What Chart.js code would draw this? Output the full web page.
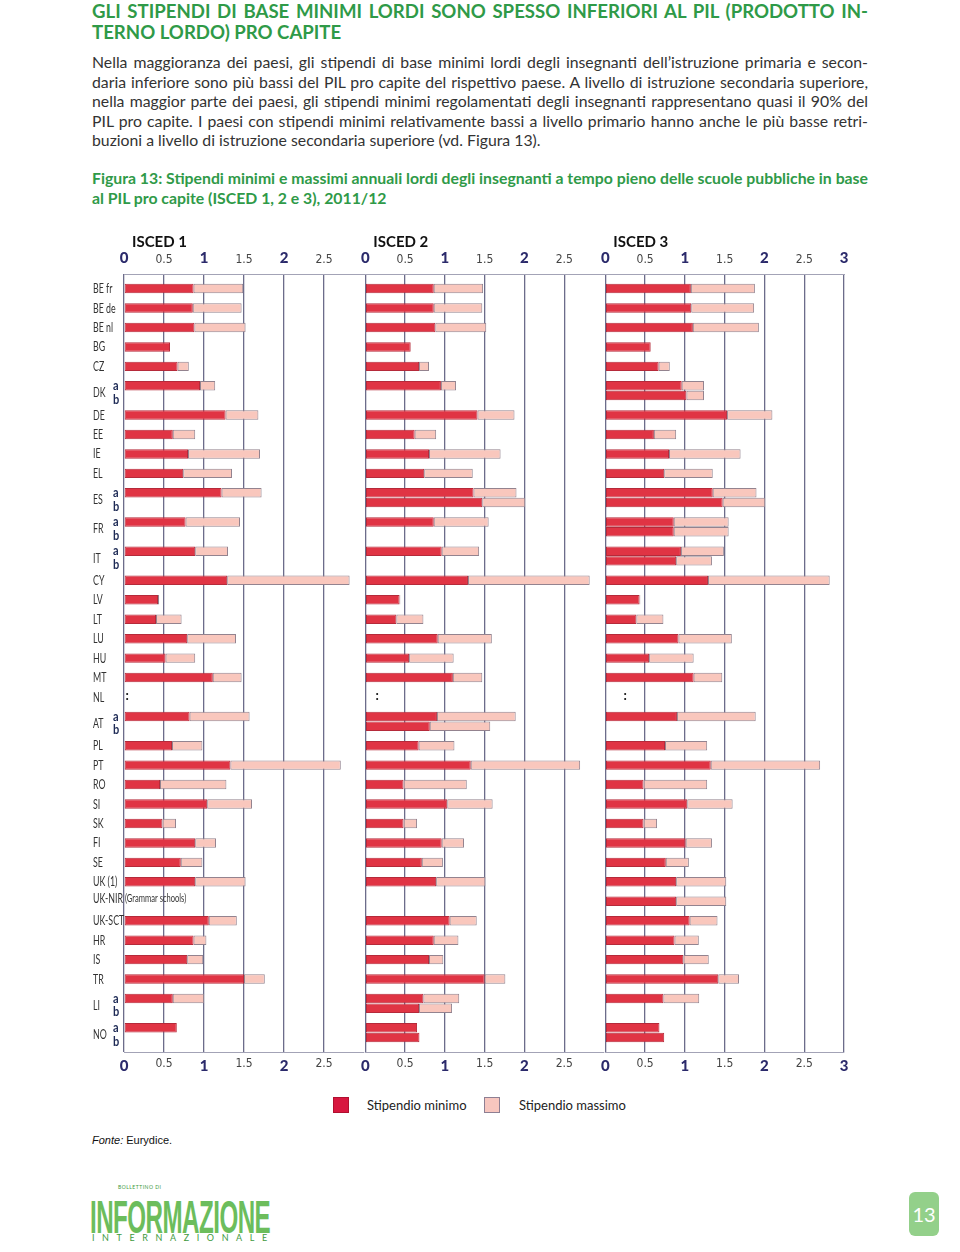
<!DOCTYPE html>
<html lang="it">
<head>
<meta charset="utf-8">
<title>Figura 13 - Stipendi minimi e massimi</title>
<script src="https://cdn.jsdelivr.net/npm/chart.js@4.4.0/dist/chart.umd.min.js"></script>
<style>
  html, body { margin: 0; padding: 0; background: #fff; }
  #page { position: relative; width: 960px; height: 1252px; overflow: hidden; font-family: Lato, "Open Sans", sans-serif; }
  .block { position: absolute; left: 92px; width: 776px; }
  .block div { text-align: justify; text-align-last: justify; }
  .block div.last { text-align-last: left; }
  .h1 { top: 1px; font-size: 18.6px; font-weight: bold; color: #2f9a48; line-height: 21px; }
  .para { top: 52px; font-size: 15.8px; color: #333; line-height: 19.5px; }
  .cap { top: 168px; font-size: 15.8px; font-weight: bold; color: #2f9a48; line-height: 19.5px; }
  canvas { position: absolute; }
  .sw { position: absolute; top: 1097px; width: 14px; height: 14px; }
  .lt { position: absolute; top: 1097px; font-size: 13px; color: #222; line-height: 17px; }
  .fonte { position: absolute; left: 92px; top: 1134px; font: 11px "Liberation Sans", Arial, sans-serif; color: #111; }
  .logo { position: absolute; left: 90px; top: 1193px; font: bold 46px "Liberation Sans", Arial, sans-serif;
          color: #6cbd5c; transform: scaleX(0.525); transform-origin: left top; line-height: 48px; letter-spacing: -1px; }
  .logo-sub { position: absolute; left: 92px; top: 1232px; font: 9px Lato, sans-serif; color: #3e9a3e; letter-spacing: 7.6px; }
  .logo-top { position: absolute; left: 118px; top: 1184px; font: 5px Lato, sans-serif; color: #3e9a3e; letter-spacing: 0.5px; }
  .pnum { position: absolute; left: 909px; top: 1192px; width: 30px; height: 44px; border-radius: 6px; background: #93d08a;
          color: #fff; font: 20px Lato, sans-serif; text-align: center; line-height: 44px; }
</style>
</head>
<body>
<div id="page">
  <div class="block h1">
    <div>GLI STIPENDI DI BASE MINIMI LORDI SONO SPESSO INFERIORI AL PIL (PRODOTTO IN-</div>
    <div class="last">TERNO LORDO) PRO CAPITE</div>
  </div>
  <div class="block para">
    <div>Nella maggioranza dei paesi, gli stipendi di base minimi lordi degli insegnanti dell’istruzione primaria e secon-</div>
    <div>daria inferiore sono più bassi del PIL pro capite del rispettivo paese. A livello di istruzione secondaria superiore,</div>
    <div>nella maggior parte dei paesi, gli stipendi minimi regolamentati degli insegnanti rappresentano quasi il 90% del</div>
    <div>PIL pro capite. I paesi con stipendi minimi relativamente bassi a livello primario hanno anche le più basse retri-</div>
    <div class="last">buzioni a livello di istruzione secondaria superiore (vd. Figura 13).</div>
  </div>
  <div class="block cap">
    <div>Figura 13: Stipendi minimi e massimi annuali lordi degli insegnanti a tempo pieno delle scuole pubbliche in base</div>
    <div class="last">al PIL pro capite (ISCED 1, 2 e 3), 2011/12</div>
  </div>

  <canvas id="isced1" width="289" height="852" style="left:85px;top:228px"></canvas>
  <canvas id="isced2" width="260" height="852" style="left:354px;top:228px"></canvas>
  <canvas id="isced3" width="262" height="852" style="left:594px;top:228px"></canvas>

  <span class="sw" style="left:333px;background:#d8173f;border:1px solid #b01030"></span>
  <span class="lt" style="left:367px">Stipendio minimo</span>
  <span class="sw" style="left:484px;background:#f7c6bf;border:1px solid #8d7f93"></span>
  <span class="lt" style="left:519px">Stipendio massimo</span>

  <div class="fonte"><i>Fonte:</i> Eurydice.</div>

  <div class="logo-top">BOLLETTINO DI</div>
  <div class="logo">INFORMAZIONE</div>
  <div class="logo-sub">INTERNAZIONALE</div>
  <div class="pnum">13</div>
</div>

<script>
// Countries in display order; the ones in abCountries have two bar rows (a / b).
const countries = ['BE fr', 'BE de', 'BE nl', 'BG', 'CZ', 'DK', 'DE', 'EE', 'IE', 'EL', 'ES', 'FR', 'IT',
  'CY', 'LV', 'LT', 'LU', 'HU', 'MT', 'NL', 'AT', 'PL', 'PT', 'RO', 'SI', 'SK', 'FI', 'SE',
  'UK (1)', 'UK-NIR', 'UK-SCT', 'HR', 'IS', 'TR', 'LI', 'NO'];
const abCountries = ['DK', 'ES', 'FR', 'IT', 'AT', 'LI', 'NO'];
const panelTitles = ['ISCED 1', 'ISCED 2', 'ISCED 3'];
const xTicks = [0, 0.5, 1, 1.5, 2, 2.5, 3];
const seriesNames = ['Stipendio minimo', 'Stipendio massimo'];

// One value per bar row (a/b countries take two), ratio to GDP per capita. null = no bar.
const isced1Min = [0.87, 0.86, 0.88, 0.575, 0.67, 0.95, null, 1.27, 0.61, 0.80, 0.74, 1.22, null, 0.77, null, 0.89, null,
  1.29, 0.425, 0.40, 0.79, 0.52, 1.11, null, 0.82, null, 0.60, 1.33, 0.45, 1.04, 0.48, 0.89, 0.71,
  0.89, null, 1.06, 0.87, 0.79, 1.50, 0.61, null, 0.66, null];
const isced1Max = [1.49, 1.47, 1.52, null, 0.81, 1.14, null, 1.68, 0.89, 1.70, 1.35, 1.72, null, 1.45, null, 1.30, null,
  2.82, 0.44, 0.72, 1.40, 0.89, 1.47, null, 1.57, null, 0.98, 2.71, 1.28, 1.60, 0.65, 1.15, 0.98,
  1.52, null, 1.41, 1.03, 0.99, 1.76, 1.00, null, null, null];

const isced2Min = [0.86, 0.86, 0.88, 0.57, 0.675, 0.95, null, 1.41, 0.62, 0.80, 0.74, 1.36, 1.47, 0.86, null, 0.96, null,
  1.29, 0.43, 0.39, 0.91, 0.55, 1.10, null, 0.90, 0.81, 0.67, 1.325, 0.48, 1.03, 0.48, 0.96, 0.71,
  0.89, null, 1.06, 0.86, 0.80, 1.50, 0.73, 0.675, 0.65, 0.68];
const isced2Max = [1.48, 1.47, 1.52, null, 0.80, 1.14, null, 1.875, 0.89, 1.70, 1.35, 1.90, 2.01, 1.55, null, 1.43, null,
  2.82, 0.44, 0.73, 1.59, 1.11, 1.47, null, 1.89, 1.57, 1.12, 2.70, 1.275, 1.60, 0.65, 1.24, 0.975,
  1.51, null, 1.40, 1.17, 0.98, 1.76, 1.18, 1.09, null, null];

const isced3Min = [1.075, 1.08, 1.10, 0.57, 0.67, 0.96, 1.02, 1.53, 0.61, 0.80, 0.74, 1.35, 1.475, 0.86, 0.86, 0.95, 0.89,
  1.29, 0.43, 0.39, 0.92, 0.55, 1.11, null, 0.90, null, 0.75, 1.325, 0.48, 1.03, 0.48, 1.01, 0.76,
  0.89, 0.89, 1.06, 0.87, 0.98, 1.42, 0.73, null, 0.68, 0.74];
const isced3Max = [1.88, 1.87, 1.93, null, 0.81, 1.24, 1.24, 2.10, 0.89, 1.70, 1.35, 1.90, 2.01, 1.55, 1.55, 1.49, 1.34,
  2.82, 0.44, 0.73, 1.59, 1.11, 1.47, null, 1.89, null, 1.28, 2.70, 1.28, 1.60, 0.65, 1.34, 1.05,
  1.52, 1.52, 1.41, 1.175, 1.30, 1.68, 1.18, null, null, null];

const RED = '#e03444';
const PINK = '#f9c7bd';
const GRID = '#6c6c8a';
const NAVY = '#2b2a6b';
const condFont = '"Liberation Sans Narrow", "DejaVu Sans Condensed", Lato, sans-serif';

// Category slots on the y axis: half a row each. Single rows take [bar, gap],
// a/b rows take [a, b, gap], plus one empty slot at the top.
const barRows = [];
const slotLabels = [''];
countries.forEach((c) => {
  const subs = abCountries.includes(c) ? ['a', 'b'] : [''];
  subs.forEach((s) => {
    barRows.push({ country: c, sub: s, slot: slotLabels.length });
    slotLabels.push(s ? c + ' ' + s : c);
  });
  slotLabels.push('');
});

function rowOf(country, sub) {
  return barRows.find((r) => r.country === country && r.sub === (sub || ''));
}

function toSlots(mins, maxs, floating) {
  const out = slotLabels.map(() => null);
  barRows.forEach((r, i) => {
    if (floating) out[r.slot] = maxs[i] != null ? [mins[i], maxs[i]] : null;
    else out[r.slot] = mins[i];
  });
  return out;
}

// the original uses a condensed face; squeeze the text horizontally
function narrowText(ctx, text, x, y, sx) {
  ctx.save();
  ctx.translate(x, y);
  ctx.scale(sx, 1);
  ctx.fillText(text, 0, 0);
  ctx.restore();
}

const isWhole = (v) => Math.abs(v - Math.round(v)) < 1e-9;
const tickFont = (ctx) => (ctx.tick && isWhole(ctx.tick.value)
  ? { family: 'Lato, "Open Sans", sans-serif', size: 15, weight: '900' }
  : { family: condFont, size: 12 });
const tickColor = (ctx) => (ctx.tick && isWhole(ctx.tick.value) ? NAVY : '#444');

// Panel title, the ":" for NL, and (first panel only) the country labels.
const panelDecor = {
  id: 'panelDecor',
  afterDraw(chart, args, opts) {
    const { ctx, chartArea, scales } = chart;
    const yAt = (row) => scales.y.getPixelForValue(row.slot);
    ctx.save();
    ctx.textBaseline = 'middle';
    ctx.textAlign = 'left';
    ctx.fillStyle = '#111';
    ctx.font = 'bold 15px Lato, "Open Sans", sans-serif';
    ctx.fillText(opts.title, chartArea.left + 8, 14);

    ctx.font = 'bold 13px Lato, sans-serif';
    ctx.textAlign = 'center';
    ctx.fillText(':', scales.x.getPixelForValue(opts.naAt), yAt(rowOf('NL')) - 1);

    if (opts.labels) {
      ctx.textAlign = 'left';
      countries.forEach((c) => {
        let y;
        if (abCountries.includes(c)) {
          const ya = yAt(rowOf(c, 'a'));
          const yb = yAt(rowOf(c, 'b')) + 4;
          ctx.font = 'bold 13px Lato, sans-serif';
          ctx.fillStyle = '#1d2a55';
          narrowText(ctx, 'a', 28, ya, 0.85);
          narrowText(ctx, 'b', 28, yb, 0.85);
          y = (ya + yb) / 2;
        } else {
          y = yAt(rowOf(c)) - (c === 'UK-NIR' ? 3 : 0);
        }
        ctx.font = '14px Lato, sans-serif';
        ctx.fillStyle = '#333';
        narrowText(ctx, c, 8, y, 0.63);
      });
      ctx.font = '12px Lato, sans-serif';
      narrowText(ctx, '(Grammar schools)', chartArea.left + 1, yAt(rowOf('UK-NIR')) - 3, 0.63);
    }
    ctx.restore();
  },
};

function xAxis(position, ticks) {
  return {
    type: 'linear',
    position,
    min: 0,
    max: 3,
    afterBuildTicks: (s) => { s.ticks = ticks.map((v) => ({ value: v })); },
    afterFit: (s) => { s.height = position === 'top' ? 30 : 22; },
    ticks: {
      font: tickFont,
      color: tickColor,
      padding: position === 'top' ? 7 : 5,
      maxRotation: 0,
      autoSkip: false,
      callback: (v) => String(v),
    },
    grid: position === 'top'
      ? { display: false, drawTicks: false }
      : { color: GRID, lineWidth: 1.3, drawTicks: false },
    border: { display: true, color: '#a3a3b6', width: 1 },
  };
}

function makePanel(id, idx, mins, maxs) {
  const last = idx === 2;
  const ticks = last ? xTicks : xTicks.slice(0, -1);
  new Chart(document.getElementById(id), {
    type: 'bar',
    data: {
      labels: slotLabels,
      datasets: [
        {
          label: seriesNames[0],
          data: toSlots(mins, maxs, false),
          backgroundColor: RED,
          borderColor: '#b52a3a',
          borderWidth: 1,
          borderSkipped: false,
          grouped: false,
          barPercentage: 0.97,
          categoryPercentage: 1,
        },
        {
          label: seriesNames[1],
          data: toSlots(mins, maxs, true),
          backgroundColor: PINK,
          borderColor: '#93838f',
          borderWidth: 1,
          borderSkipped: false,
          grouped: false,
          barPercentage: 0.97,
          categoryPercentage: 1,
        },
      ],
    },
    options: {
      indexAxis: 'y',
      responsive: false,
      animation: false,
      layout: { padding: { left: idx === 0 ? 39 : 10, right: last ? 12 : 10, top: 16, bottom: 6 } },
      scales: {
        x: xAxis('bottom', ticks),
        x2: xAxis('top', ticks),
        y: { type: 'category', display: false, offset: true, grid: { display: false } },
      },
      plugins: {
        legend: { display: false },
        tooltip: { enabled: false },
        panelDecor: { title: panelTitles[idx], naAt: [0.04, 0.15, 0.25][idx], labels: idx === 0 },
      },
    },
    plugins: [panelDecor],
  });
}

makePanel('isced1', 0, isced1Min, isced1Max);
makePanel('isced2', 1, isced2Min, isced2Max);
makePanel('isced3', 2, isced3Min, isced3Max);
</script>
</body>
</html>
